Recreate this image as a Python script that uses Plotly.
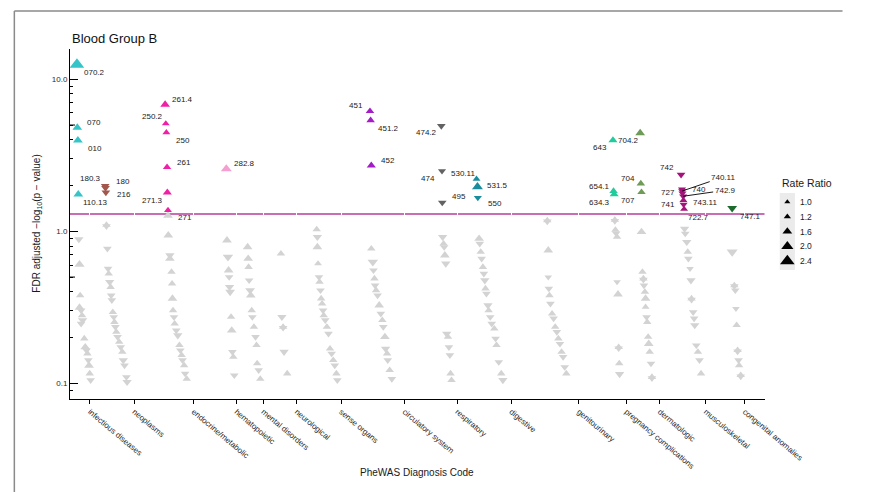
import numpy as np
import plotly.graph_objects as go

FONT = "Liberation Sans, Arial, sans-serif"

# ---------------------------------------------------------------- data
# phecode groups along the x axis and the position of each group's tick
group_names = ["infectious diseases", "neoplasms", "endocrine/metabolic", "hematopoietic",
               "mental disorders", "neurological", "sense organs", "circulatory system",
               "respiratory", "digestive", "genitourinary", "pregnancy complications",
               "dermatologic", "musculoskeletal", "congenital anomalies"]
group_centers = [21, 67.7, 130, 175, 203.3, 238.3, 285, 351.7, 407, 464, 535, 585, 620,
                 668.3, 709.3]
group_colors = ["#35C5C8", "#A2574C", "#F020A6", "#F59ED0", "#888888", "#888888", "#888888",
                "#A31CC7", "#626262", "#1A8D9D", "#888888", "#22CB9C", "#6E9B57", "#A3147B",
                "#1C6A2D"]

# significant phenotypes (FDR adjusted -log10 p above 0.05 threshold)
sig_code = ["070.2", "070", "010", "110.13",
            "180.3", "180", "216",
            "261.4", "250.2", "250", "261", "271.3", "271",
            "282.8",
            "451", "451.2", "452",
            "474.2", "474", "495",
            "530.11", "531.5", "550",
            "643", "654.1", "634.3",
            "704.2", "704", "707",
            "742", "727", "740.11", "740", "742.9", "743.11", "741", "722.7",
            "747.1"]
sig_group = ["infectious diseases"] * 4 + ["neoplasms"] * 3 + ["endocrine/metabolic"] * 6 + \
            ["hematopoietic"] + ["circulatory system"] * 3 + ["respiratory"] * 3 + \
            ["digestive"] * 3 + ["pregnancy complications"] * 3 + ["dermatologic"] * 3 + \
            ["musculoskeletal"] * 8 + ["congenital anomalies"]
sig_pos = [7.3, 7.7, 8.3, 8.7,
           37.0, 37.3, 37.7,
           100.0, 100.7, 101.3, 102.0, 102.3, 103.0,
           164.3,
           315.3, 316.0, 316.7,
           390.3, 391.0, 391.3,
           427.3, 428.3, 428.7,
           570.7, 571.3, 572.0,
           599.3, 600.0, 600.7,
           642.3, 643.3, 643.5, 643.8, 644.5, 644.8, 645.0, 645.5,
           696.0]
sig_fdr = [12.5, 4.81, 3.97, 1.75,
           1.99, 1.93, 1.80,
           6.82, 5.11, 4.46, 2.64, 1.80, 1.375,
           2.57,
           6.16, 5.37, 2.71,
           4.93, 2.49, 1.545,
           2.21, 1.96, 1.66,
           3.97, 1.84, 1.75,
           4.43, 2.06, 1.81,
           2.36, 1.89, 1.84, 1.78, 1.70, 1.60, 1.50, 1.40,
           1.42]
sig_rr = [2.4, 1.6, 1.6, 1.6,
          0.70, 0.70, 0.70,
          1.6, 1.3, 1.3, 1.4, 1.5, 1.3,
          1.8,
          1.4, 1.4, 1.5,
          0.70, 0.75, 0.70,
          1.3, 1.8, 0.75,
          1.5, 1.4, 1.5,
          1.6, 1.4, 1.4,
          0.70, 0.75, 0.75, 0.75, 0.75, 1.3, 0.75, 1.3,
          0.62]

# non-significant phenotypes
ns_pos = [9.3, 10.0, 10.7, 10.0, 11.7, 12.7, 13.3, 11.7, 15.0, 16.0, 17.3, 18.3, 19.3, 20.0, 20.7, 21.7,
          38.3, 38.3, 39.3, 40.0, 40.7, 41.7, 42.7, 43.3, 44.0, 45.0, 46.0, 46.7, 47.7, 48.7, 50.0,
          51.7, 53.3, 55.0, 56.0, 57.3, 59.3, 60.0,
          103.0, 103.3, 105.0, 105.0, 106.7, 107.3, 107.7, 108.3, 109.3, 110.0, 111.7, 113.3, 115.0,
          116.0, 117.3, 118.3, 120.0, 121.0, 122.7,
          165.0, 166.0, 166.7, 167.3, 167.7, 168.3, 169.3, 170.0, 170.7, 171.7, 172.7,
          186.7, 187.3, 187.7, 188.3, 189.3, 190.0, 191.0, 191.7, 193.3, 195.0, 196.0, 196.7, 198.3, 200.0,
          221.7, 222.7, 224.0, 224.0, 225.0, 228.3,
          259.3, 260.0, 260.0, 260.7, 261.7, 262.3, 263.3, 264.0, 265.0, 266.0, 266.7, 268.3, 270.0,
          271.7, 273.3, 275.0, 276.7, 278.3, 280.0, 281.0,
          316.7, 318.3, 319.0, 320.0, 320.7, 321.7, 323.3, 325.0, 326.7, 328.3, 329.3, 331.0, 331.7,
          333.3, 334.0, 336.0, 338.3,
          391.7, 392.7, 393.3, 394.0, 395.0, 396.0, 397.3, 398.3, 399.3, 400.0, 401.0,
          430.0, 430.7, 431.7, 432.7, 434.0, 435.0, 436.0, 436.7, 437.7, 439.3, 440.0, 441.7, 443.3,
          446.0, 447.3, 448.3, 450.7, 453.3, 455.0,
          501.7, 501.7, 502.7, 502.7, 503.3, 504.0, 505.0, 506.7, 508.3, 510.0, 511.7, 513.3, 515.0,
          516.7, 518.3, 520.0, 521.7,
          572.7, 572.7, 573.3, 574.0, 575.0, 575.0, 576.0, 576.7, 576.7, 577.3, 577.7,
          600.7, 601.7, 602.7, 602.7, 603.3, 604.3, 605.0, 605.0, 606.0, 606.7, 607.7, 608.3, 609.3,
          610.7, 611.7, 611.7,
          646.0, 646.7, 648.3, 649.3, 650.0, 651.7, 652.7, 653.3, 653.3, 655.0, 656.0, 656.7, 658.3,
          660.0, 661.7, 663.3,
          696.0, 698.3, 698.3, 699.3, 700.0, 700.7, 701.7, 701.7, 702.7, 703.3, 705.0, 705.0]
ns_fdr = [0.886, 0.604, 0.379, 0.315, 0.302, 0.280, 0.260, 0.247, 0.197, 0.173, 0.165, 0.157, 0.142,
          0.131, 0.116, 0.105,
          1.10, 1.08, 0.769, 0.568, 0.527, 0.464, 0.430, 0.379, 0.352, 0.294, 0.273, 0.253, 0.235,
          0.218, 0.202, 0.187, 0.173, 0.161, 0.142, 0.131, 0.110, 0.102,
          1.27, 0.941, 0.695, 0.661, 0.540, 0.453, 0.361, 0.302, 0.273, 0.247, 0.223, 0.207, 0.178,
          0.165, 0.153, 0.142, 0.131, 0.116, 0.107,
          0.873, 0.678, 0.554, 0.500, 0.430, 0.399, 0.273, 0.223, 0.161, 0.149, 0.113,
          0.788, 0.661, 0.582, 0.476, 0.409, 0.379, 0.302, 0.273, 0.235, 0.202, 0.178, 0.135, 0.122,
          0.107,
          0.713, 0.273, 0.235, 0.232, 0.161, 0.116,
          1.03, 0.917, 0.788, 0.613, 0.500, 0.464, 0.409, 0.361, 0.334, 0.302, 0.280, 0.260, 0.235,
          0.212, 0.169, 0.157, 0.142, 0.131, 0.116, 0.105,
          0.769, 0.628, 0.554, 0.489, 0.441, 0.409, 0.379, 0.326, 0.287, 0.260, 0.235, 0.202, 0.169,
          0.157, 0.142, 0.122, 0.107,
          0.917, 0.830, 0.788, 0.695, 0.613, 0.212, 0.202, 0.173, 0.153, 0.116, 0.105,
          0.895, 0.830, 0.731, 0.661, 0.582, 0.527, 0.476, 0.420, 0.389, 0.326, 0.302, 0.273, 0.247,
          0.229, 0.197, 0.178, 0.138, 0.116, 0.105,
          1.18, 1.16, 0.750, 0.500, 0.420, 0.379, 0.334, 0.287, 0.267, 0.235, 0.218, 0.197, 0.182,
          0.161, 0.149, 0.128, 0.116,
          1.19, 1.17, 1.02, 0.97, 0.917, 0.464, 0.385, 0.173, 0.170, 0.135, 0.115,
          0.99, 0.540, 0.489, 0.480, 0.441, 0.399, 0.361, 0.318, 0.273, 0.253, 0.202, 0.182, 0.161,
          0.135, 0.110, 0.108,
          1.04, 0.966, 0.850, 0.731, 0.661, 0.568, 0.476, 0.361, 0.355, 0.294, 0.267, 0.241, 0.178,
          0.161, 0.142, 0.116,
          0.731, 0.441, 0.435, 0.409, 0.310, 0.241, 0.165, 0.162, 0.142, 0.131, 0.113, 0.111]
ns_rr = [0.65, 1.7, 1.4, 1.6, 0.7, 1.4, 0.65, 0.7, 1.4, 1.6, 0.7, 1.4, 0.7, 1.6, 1.4, 0.7,
         1.4, 0.7, 0.7, 0.7, 1.4, 0.65, 1.4, 0.7, 0.7, 1.4, 0.7, 1.4, 0.7, 1.4, 0.7, 1.4, 0.7, 1.4,
         0.65, 0.7, 0.7, 0.65,
         1.6, 1.6, 0.65, 1.6, 1.4, 1.4, 1.6, 1.4, 0.7, 1.4, 0.7, 0.65, 1.4, 0.7, 1.4, 0.7, 1.4, 0.7, 1.4,
         1.6, 0.58, 1.6, 0.7, 0.65, 0.62, 1.4, 1.6, 0.7, 1.4, 0.7,
         1.6, 1.6, 1.4, 0.7, 0.62, 1.6, 1.4, 0.7, 1.4, 0.7, 1.4, 1.4, 0.7, 1.4,
         1.4, 0.65, 1.4, 0.7, 0.65, 1.4,
         1.4, 0.65, 1.6, 1.3, 0.7, 1.4, 0.7, 1.4, 1.4, 0.7, 1.4, 0.7, 1.4, 0.7, 1.4, 0.7, 1.4, 0.7,
         1.4, 0.7,
         1.4, 0.58, 0.7, 1.4, 0.7, 1.4, 0.7, 1.6, 0.7, 1.4, 0.7, 1.6, 0.65, 1.4, 0.7, 1.4, 0.7,
         0.65, 1.4, 0.7, 1.6, 0.65, 0.65, 1.4, 0.7, 0.7, 1.4, 1.4,
         1.6, 0.7, 1.4, 0.7, 1.4, 0.7, 0.65, 1.4, 0.7, 0.65, 1.4, 0.7, 0.7, 1.4, 0.7, 1.4, 0.7, 1.4,
         0.65,
         1.4, 0.7, 1.6, 0.8, 0.7, 1.4, 0.7, 1.4, 0.7, 1.4, 0.7, 1.4, 0.7, 1.4, 0.7, 0.7, 1.4,
         1.4, 0.7, 1.4, 0.7, 1.4, 0.8, 1.6, 1.4, 0.7, 1.4, 0.65,
         1.6, 1.4, 1.4, 0.7, 0.7, 1.4, 1.6, 1.3, 0.7, 1.4, 1.4, 1.6, 1.4, 0.7, 1.4, 0.7,
         0.65, 0.7, 0.65, 1.4, 0.7, 0.8, 0.65, 1.4, 0.7, 0.7, 0.7, 0.65, 0.7, 1.4, 0.7, 1.4,
         0.55, 1.4, 0.7, 0.7, 0.8, 1.4, 1.4, 0.7, 0.7, 1.4, 1.4, 0.7]

legend_rr = [1.0, 1.2, 1.6, 2.0, 2.4]
threshold = -np.log10(0.05)

# label placement: (dx, dy in px from the point, anchor side) ; "arrow" uses a leader line
label_place = {
    "070.2": (5, 8, "left"), "070": (8, -5, "left"), "010": (8, 8, "left"),
    "110.13": (3, 8, "left"), "180.3": (-2, -7, "right"), "180": (9, -6, "left"),
    "216": (9, 2, "left"), "261.4": (5, -5, "left"), "250.2": (-1, -7, "right"),
    "250": (8, 8, "left"), "261": (8, -5, "left"), "271.3": (-2, 8, "right"),
    "271": (8, 7, "left"), "282.8": (6, -5, "left"), "451": (-5, -6, "right"),
    "451.2": (5, 8, "left"), "452": (8, -5, "left"), "474.2": (-2, 7, "right"),
    "474": (-5, 7, "right"), "495": (8, -6, "left"), "530.11": (0, -5, "right"),
    "531.5": (8, -1, "left"), "550": (8, 6, "left"), "643": (-4, 7, "right"),
    "654.1": (-2, -5, "right"), "634.3": (-2, 8, "right"), "704.2": (1, 7, "right"),
    "704": (-4, -5, "right"), "707": (-4, 8, "right"), "742": (-5, -7, "right"),
    "727": (-5, 3, "right"), "740.11": (41, -14, "arrow"), "740": (8, -4, "left"),
    "742.9": (42, -6, "arrow"), "743.11": (8, 2, "left"), "741": (-7, 0, "right"),
    "722.7": (2, 8, "left"), "747.1": (6, 8, "left"),
}

# ---------------------------------------------------------------- geometry
W, H = 882, 492
ML, MR, MT, MB = 70, 10, 49, 93
PW, PH = W - ML - MR, H - MT - MB
X_MAX = 730
Y_RANGE = [-1.103, 1.199]


def paper_x(px):
    return (px - ML) / PW


def paper_y(py):
    return (H - MB - py) / PH


def y_frac(v):
    return (np.log10(v) - Y_RANGE[0]) / (Y_RANGE[1] - Y_RANGE[0])


def marker_size(rr):
    # triangle size grows with the rate ratio (or its inverse for protective effects)
    return 5.3 * max(rr, 1.0 / rr)


def symbol(rr):
    return "triangle-up" if rr >= 1 else "triangle-down"


def triangles(x, y, rr, color, **kw):
    return go.Scatter(
        x=x, y=y, mode="markers", showlegend=False, hoverinfo="skip",
        marker=dict(color=color, size=[marker_size(r) for r in rr], opacity=1,
                    symbol=[symbol(r) for r in rr], line=dict(width=0)),
        **kw)


fig = go.Figure()

# non-significant phenotypes
fig.add_trace(triangles(ns_pos, ns_fdr, ns_rr, "#D3D3D3"))

# significant phenotypes, coloured by group
color_of = dict(zip(group_names, group_colors))
fig.add_trace(triangles(sig_pos, sig_fdr, sig_rr, [color_of[g] for g in sig_group]))

annotations = []
for code, xp, v in zip(sig_code, sig_pos, sig_fdr):
    dx, dy, side = label_place[code]
    common = dict(x=xp, y=np.log10(v), xref="x", yref="y", text=code,
                  font=dict(family=FONT, size=8, color="#222222"))
    if side == "arrow":
        annotations.append(dict(**common, showarrow=True, ax=dx, ay=dy, arrowhead=0,
                                arrowwidth=0.9, arrowcolor="#000000", standoff=0,
                                xanchor="center", yanchor="middle"))
    else:
        annotations.append(dict(**common, showarrow=False, xanchor=side, yanchor="middle",
                                xshift=dx, yshift=-dy))

# legend (rate ratio sizes) on its own small axes
fig.add_trace(triangles([0.5] * len(legend_rr), list(range(len(legend_rr))), legend_rr,
                        "#000000", xaxis="x2", yaxis="y2"))
for i, r in enumerate(legend_rr):
    annotations.append(dict(x=1, y=i, xref="x2", yref="y2", text=f"{r:.1f}", showarrow=False,
                            xanchor="left", yanchor="middle", xshift=3,
                            font=dict(family=FONT, size=8.5, color="#222222")))
annotations.append(dict(x=paper_x(816), y=paper_y(183), xref="paper", yref="paper",
                        text="Rate Ratio", showarrow=False, xanchor="left", yanchor="middle",
                        font=dict(family=FONT, size=10.5, color="#1a1a1a")))

# titles
annotations.append(dict(x=0, y=paper_y(38), xref="paper", yref="paper", text="Blood Group B",
                        showarrow=False, xanchor="left", yanchor="middle",
                        font=dict(family=FONT, size=13, color="#111111")))
annotations.append(dict(x=paper_x(435), y=paper_y(472), xref="paper", yref="paper",
                        text="PheWAS Diagnosis Code", showarrow=False, xanchor="center",
                        yanchor="middle", font=dict(family=FONT, size=10, color="#1a1a1a")))
annotations.append(dict(x=paper_x(35), y=0.5, xref="paper", yref="paper",
                        text="FDR adjusted \u2212log<sub>10</sub>(p \u2212 value)",
                        showarrow=False, textangle=-90, xanchor="center", yanchor="middle",
                        font=dict(family=FONT, size=10, color="#1a1a1a")))

shapes = [
    # significance threshold (drawn beneath the white tick gridlines)
    dict(type="line", xref="x domain", yref="y domain", x0=0, x1=1,
         y0=y_frac(threshold), y1=y_frac(threshold), layer="below",
         line=dict(color="#C96EB4", width=2)),
    # longer log ticks at the half decades
    *[dict(type="line", xref="x", yref="y domain", xsizemode="pixel", xanchor=0, x0=0, x1=5,
           y0=y_frac(v), y1=y_frac(v), line=dict(color="#000000", width=1))
      for v in (0.5, 5)],
    # legend key background
    dict(type="rect", xref="x2 domain", yref="y2 domain", x0=0, x1=1, y0=0, y1=1,
         fillcolor="#EBEBEB", line=dict(width=0), layer="below"),
    # outer frame
    dict(type="line", xref="paper", yref="paper", x0=paper_x(11.5), x1=paper_x(11.5),
         y0=paper_y(11), y1=paper_y(H), line=dict(color="#8A8A8A", width=1.5)),
    dict(type="line", xref="paper", yref="paper", x0=paper_x(11.5), x1=paper_x(W),
         y0=paper_y(11), y1=paper_y(11), line=dict(color="#8A8A8A", width=1.5)),
]

minor_vals = [m * 10.0 ** e for e in (-2, -1, 0, 1) for m in range(2, 10)
              if 10 ** Y_RANGE[0] <= m * 10.0 ** e <= 10 ** Y_RANGE[1]]

fig.update_layout(
    width=W, height=H, margin=dict(l=ML, r=MR, t=MT, b=MB, pad=0),
    paper_bgcolor="#FFFFFF", plot_bgcolor="rgba(0,0,0,0)",
    font=dict(family=FONT, size=8, color="#222222"),
    xaxis=dict(domain=[0, X_MAX / PW], range=[0, X_MAX], tickmode="array",
               tickvals=group_centers, ticktext=group_names, tickangle=40,
               ticks="outside", ticklen=4, tickcolor="#000000", tickwidth=1,
               tickfont=dict(family=FONT, size=8, color="#2a2a2a"),
               showline=True, linecolor="#000000", linewidth=1,
               showgrid=True, gridcolor="#FFFFFF", gridwidth=1, zeroline=False),
    yaxis=dict(type="log", range=Y_RANGE, tickmode="array", tickvals=[0.1, 1, 10],
               ticktext=["0.1", "1.0", "10.0"], ticks="inside", ticklen=8,
               tickcolor="#000000", tickwidth=1,
               tickfont=dict(family=FONT, size=8, color="#2a2a2a"),
               showline=True, linecolor="#000000", linewidth=1, showgrid=False,
               zeroline=False,
               minor=dict(tickmode="array", tickvals=minor_vals, ticks="inside", ticklen=2.5,
                          tickcolor="#000000", showgrid=False)),
    xaxis2=dict(domain=[paper_x(816), paper_x(832)], range=[0, 1], anchor="y2",
                visible=False, fixedrange=True),
    yaxis2=dict(domain=[paper_y(270), paper_y(193)], range=[4.6, -0.6], anchor="x2",
                visible=False, fixedrange=True),
    annotations=annotations,
    shapes=shapes,
    showlegend=False,
)

fig.write_html("out.html")
